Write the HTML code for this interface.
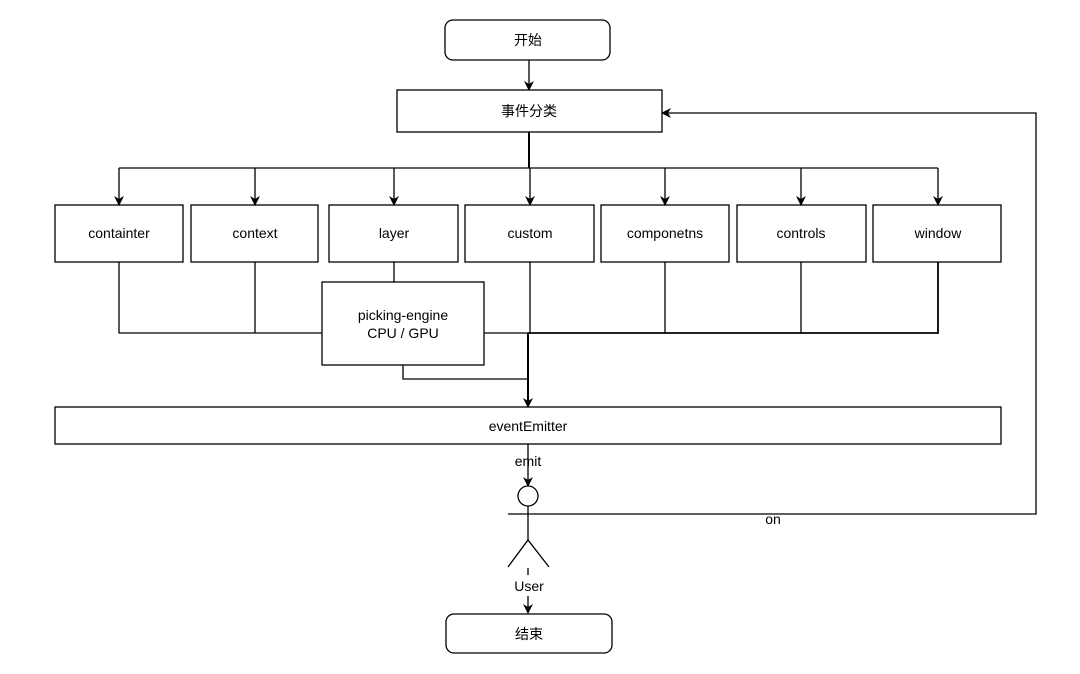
<!DOCTYPE html>
<html><head><meta charset="utf-8"><style>
body{margin:0;background:#fff;}
svg text{font-family:"Liberation Sans","Noto Sans CJK SC",sans-serif;font-size:14px;fill:#000;text-anchor:middle;}
</style></head><body>
<svg width="1080" height="669" viewBox="0 0 1080 669" xmlns="http://www.w3.org/2000/svg">
<defs><marker id="a" markerWidth="10" markerHeight="10" refX="9" refY="5" orient="auto" markerUnits="userSpaceOnUse"><path d="M0,0 L10,5 L0,10 L3,5 z" fill="#000"/></marker></defs>
<g fill="none" stroke="#000" stroke-width="1.3">
<rect x="445" y="20" width="165" height="40" rx="8" fill="#fff"/>
<line x1="529" y1="60" x2="529" y2="90" marker-end="url(#a)"/>
<rect x="397" y="90" width="265" height="42" fill="#fff"/>
<line x1="529" y1="132" x2="529" y2="168" stroke-width="2"/>
<line x1="119" y1="168" x2="938" y2="168"/>
<line x1="119" y1="168" x2="119" y2="205" marker-end="url(#a)"/>
<line x1="255" y1="168" x2="255" y2="205" marker-end="url(#a)"/>
<line x1="394" y1="168" x2="394" y2="205" marker-end="url(#a)"/>
<line x1="530" y1="168" x2="530" y2="205" marker-end="url(#a)"/>
<line x1="665" y1="168" x2="665" y2="205" marker-end="url(#a)"/>
<line x1="801" y1="168" x2="801" y2="205" marker-end="url(#a)"/>
<line x1="938" y1="168" x2="938" y2="205" marker-end="url(#a)"/>
<rect x="55" y="205" width="128" height="57"/>
<rect x="191" y="205" width="127" height="57"/>
<rect x="329" y="205" width="129" height="57"/>
<rect x="465" y="205" width="129" height="57"/>
<rect x="601" y="205" width="128" height="57"/>
<rect x="737" y="205" width="129" height="57"/>
<rect x="873" y="205" width="128" height="57"/>
<polyline points="119,262 119,333 322,333"/>
<line x1="255" y1="262" x2="255" y2="333"/>
<line x1="394" y1="262" x2="394" y2="282"/>
<line x1="530" y1="262" x2="530" y2="333"/>
<line x1="484" y1="333" x2="528" y2="333"/>
<polyline points="528,333 938,333 938,262" stroke-width="1.8"/>
<line x1="665" y1="262" x2="665" y2="333"/>
<line x1="801" y1="262" x2="801" y2="333"/>
<rect x="322" y="282" width="162" height="83" fill="#fff"/>
<polyline points="403,365 403,379 528,379"/>
<line x1="528" y1="333" x2="528" y2="407" stroke-width="2" marker-end="url(#a)"/>
<rect x="55" y="407" width="946" height="37"/>
<line x1="528" y1="444" x2="528" y2="486" marker-end="url(#a)"/>
<circle cx="528" cy="496" r="10"/>
<line x1="528" y1="506" x2="528" y2="540"/>
<polyline points="508,567 528,540 549,567"/>
<line x1="528" y1="568" x2="528" y2="575"/>
<polyline points="508,514 1036,514 1036,113 662,113" marker-end="url(#a)"/>
<line x1="528" y1="596" x2="528" y2="613" marker-end="url(#a)"/>
<rect x="446" y="614" width="166" height="39" rx="8"/>
</g>
<text x="528" y="45">开始</text>
<text x="529" y="116">事件分类</text>
<text x="119" y="238">containter</text>
<text x="255" y="238">context</text>
<text x="394" y="238">layer</text>
<text x="530" y="238">custom</text>
<text x="665" y="238">componetns</text>
<text x="801" y="238">controls</text>
<text x="938" y="238">window</text>
<text x="403" y="320">picking-engine</text>
<text x="403" y="338">CPU / GPU</text>
<text x="528" y="431">eventEmitter</text>
<text x="528" y="466">emit</text>
<text x="773" y="524">on</text>
<text x="529" y="591">User</text>
<text x="529" y="639">结束</text>
</svg>
</body></html>
